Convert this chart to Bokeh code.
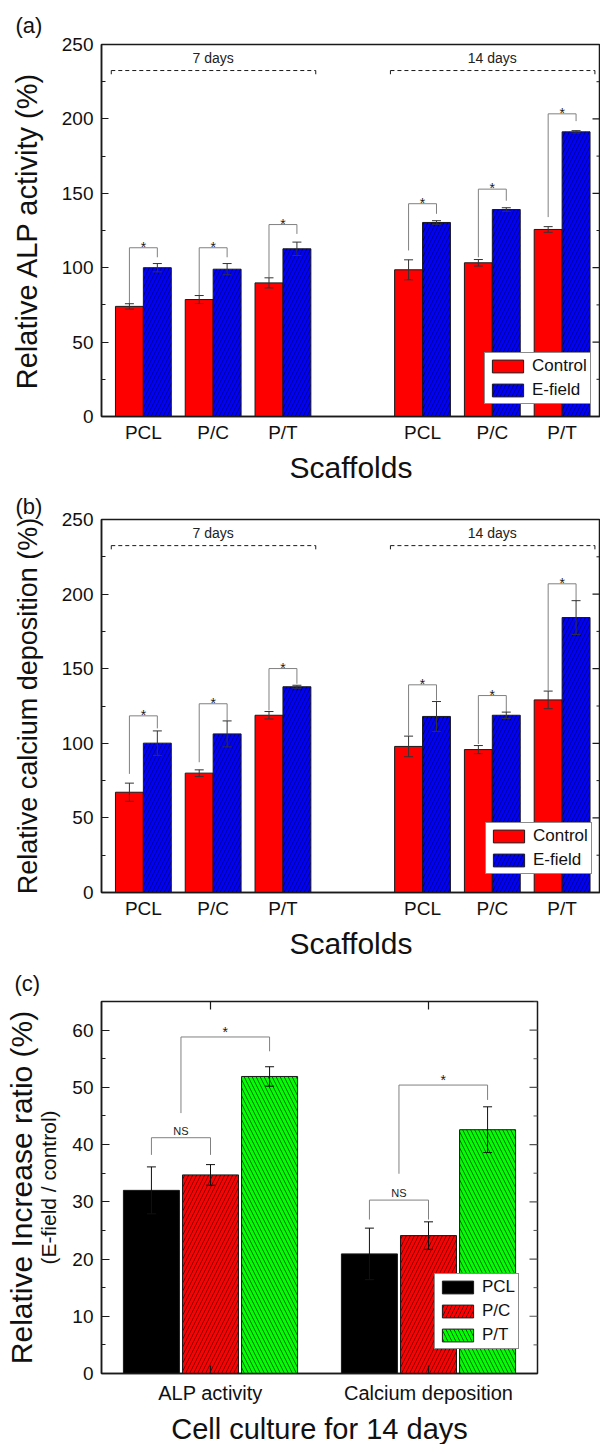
import math
from bokeh.plotting import figure
from bokeh.layouts import column
from bokeh.models import (ColumnDataSource, Whisker, TeeHead, Legend, LegendItem, LinearAxis,
                          FixedTicker, Range1d)
from bokeh.core.properties import value
from bokeh.embed import file_html
from bokeh.resources import INLINE

FONT = "Liberation Sans"
INK = "#1a1a1a"
BRACKET = "#808080"

# ---------------- data ----------------
scaffolds = ["PCL", "P/C", "P/T"]
periods = ["7 days", "14 days"]

# (a) relative ALP activity (%)  order: 7d PCL, P/C, P/T, 14d PCL, P/C, P/T
alp_control = [74.0, 78.6, 89.8, 98.6, 103.3, 125.7]
alp_control_err = [1.8, 2.7, 3.4, 6.7, 2.2, 1.9]
alp_efield = [100.0, 99.0, 112.7, 130.4, 139.1, 191.3]
alp_efield_err = [2.8, 3.8, 4.5, 1.2, 1.2, 0.8]
alp_sig_top = [113.4, 113.4, 129.0, 143.0, 152.8, 203.4]
alp_sig_left = [75.8, 81.3, 93.6, 111.6, 107.0, 134.0]
alp_sig_right = [107.0, 107.0, 122.7, 136.2, 145.0, 198.5]

# (b) relative calcium deposition (%)
ca_control = [67.2, 80.0, 118.8, 97.9, 95.8, 129.1]
ca_control_err = [6.1, 2.2, 2.5, 6.9, 2.7, 5.9]
ca_efield = [100.1, 106.3, 137.9, 118.0, 118.8, 184.3]
ca_efield_err = [8.2, 8.7, 1.0, 10.0, 2.1, 11.3]
ca_sig_top = [118.4, 126.5, 150.1, 139.2, 132.0, 206.9]
ca_sig_left = [79.5, 87.3, 122.0, 105.2, 99.5, 135.4]
ca_sig_right = [110.0, 115.3, 139.9, 128.7, 120.8, 195.2]

period_bracket_level = 232.5
period_label_level = 241.0

# (c) relative increase ratio (%), 14 days
ratio_tests = ["ALP activity", "Calcium deposition"]
ratio_pcl = [32.0, 20.9]
ratio_pcl_err = [4.1, 4.5]
ratio_pc = [34.7, 24.1]
ratio_pc_err = [1.8, 2.4]
ratio_pt = [51.9, 42.6]
ratio_pt_err = [1.7, 4.0]
ratio_ns_top = [41.2, 30.3]
ratio_ns_left = [38.2, 26.9]
ratio_ns_right = [38.2, 26.9]
ratio_star_top = [58.8, 50.4]
ratio_star_left = [45.5, 34.9]
ratio_star_right = [56.3, 47.8]


def style_axis(ax, label_size="19px"):
    ax.axis_line_color = INK
    ax.axis_line_width = 1.5
    ax.major_tick_line_color = INK
    ax.minor_tick_line_color = INK
    ax.major_tick_line_width = 1.2
    ax.minor_tick_line_width = 1.0
    ax.major_tick_out = 0
    ax.minor_tick_out = 0
    ax.major_tick_in = 7
    ax.minor_tick_in = 4
    ax.major_label_text_font = FONT
    ax.major_label_text_font_size = label_size
    ax.major_label_text_color = "#111111"
    ax.axis_label_text_font = FONT
    ax.axis_label_text_font_size = "30px"
    ax.axis_label_text_font_style = "normal"
    ax.axis_label_text_color = "#111111"


def panel_title(p, text, offset, standoff):
    p.title.text = text
    p.title.text_font = FONT
    p.title.text_font_size = "22px"
    p.title.text_font_style = "normal"
    p.title.text_color = "#111111"
    p.title.align = "left"
    p.title.offset = offset
    p.title.standoff = standoff


def mirror_ticks(p, x_edge, ticks, minor, color=INK):
    # inward tick marks on the right frame edge (half of each dash is clipped by the frame)
    p.scatter(x=[x_edge] * len(ticks), y=ticks, marker="dash", size=16,
              line_color=color, line_width=1.2)
    p.scatter(x=[x_edge] * len(minor), y=minor, marker="dash", size=8,
              line_color=color, line_width=1.0)


def whiskers(p, src, base, up, lo, color="#333333"):
    w = Whisker(base=base, upper=up, lower=lo, source=src, level="annotation",
                line_color=color, line_width=1,
                upper_head=TeeHead(size=9, line_color=color, line_width=1),
                lower_head=TeeHead(size=9, line_color=color, line_width=1))
    p.add_layout(w)


def style_legend(lg):
    lg.border_line_color = INK
    lg.border_line_width = 1
    lg.background_fill_color = "white"
    lg.background_fill_alpha = 1
    lg.label_text_font = FONT
    lg.label_text_font_size = "17px"
    lg.label_text_color = "#111111"
    lg.glyph_width = 39
    lg.glyph_height = 16
    lg.label_height = 18
    lg.label_standoff = 5
    lg.padding = 3
    lg.spacing = 4
    lg.margin = 0


def bar_panel(letter, letter_standoff, ylabel, ylabel_size, control, control_err, efield,
              efield_err, sig_top, sig_left, sig_right, top_border, frame_h, legend_loc):
    slots = [1 + i + 4 * k for k in range(len(periods)) for i in range(len(scaffolds))]
    names = [s for _ in periods for s in scaffolds]
    x_lo, x_hi, y_hi = 0.4, 7.55, 250
    fw, left = 499, 100
    p = figure(frame_width=fw, frame_height=frame_h, x_range=Range1d(x_lo, x_hi),
               y_range=Range1d(0, y_hi), output_backend="svg", toolbar_location=None,
               min_border_left=left, min_border_right=1, min_border_top=top_border,
               min_border_bottom=70, background_fill_color="white", border_fill_color="white")
    p.grid.visible = False
    p.outline_line_color = INK
    p.outline_line_width = 1.5
    panel_title(p, letter, -86, letter_standoff)

    src = ColumnDataSource(dict(
        xc=[s - 0.2 for s in slots], xe=[s + 0.2 for s in slots],
        control=control, efield=efield,
        c_up=[v + e for v, e in zip(control, control_err)],
        c_lo=[v - e for v, e in zip(control, control_err)],
        e_up=[v + e for v, e in zip(efield, efield_err)],
        e_lo=[v - e for v, e in zip(efield, efield_err)]))
    rc = p.vbar(x="xc", top="control", width=0.4, source=src, fill_color="#ff0000",
                line_color=INK, line_width=1)
    re = p.vbar(x="xe", top="efield", width=0.4, source=src, fill_color="#0000ff",
                line_color=INK, line_width=1, hatch_pattern="/", hatch_color="#00002a",
                hatch_scale=8, hatch_weight=0.7)
    whiskers(p, src, "xc", "c_up", "c_lo")
    whiskers(p, src, "xe", "e_up", "e_lo")

    # significance brackets
    xs = [[s - 0.2, s - 0.2, s + 0.2, s + 0.2] for s in slots]
    ys = [[l, t, t, r] for l, t, r in zip(sig_left, sig_top, sig_right)]
    p.multi_line(xs, ys, line_color=BRACKET, line_width=1)
    p.text(x=slots, y=sig_top, text=["*"] * len(slots), text_font=value(FONT),
           text_font_size="14px", text_align="center", text_baseline="alphabetic",
           y_offset=-1, text_color=INK)

    # period brackets
    for k, name in enumerate(periods):
        grp = slots[k * 3:(k + 1) * 3]
        x0, x1 = grp[0] - 0.46, grp[-1] + 0.47
        p.segment(x0=[x0], y0=[period_bracket_level], x1=[x1], y1=[period_bracket_level],
                  line_dash="4 3", line_color=INK, line_width=1)
        p.segment(x0=[x0, x1], y0=[period_bracket_level] * 2, x1=[x0, x1],
                  y1=[period_bracket_level - 2.5] * 2, line_color=INK, line_width=1)
        p.text(x=[sum(grp) / len(grp)], y=[period_label_level], text=[name],
               text_font=value(FONT), text_font_size="14px", text_align="center",
               text_baseline="middle", text_color="#222222")

    # axes
    yticks = list(range(0, 251, 50))
    yminor = list(range(25, 250, 50))
    p.yaxis.ticker = FixedTicker(ticks=yticks, minor_ticks=yminor)
    p.xaxis.ticker = FixedTicker(ticks=slots)
    p.xaxis.major_label_overrides = {s: n for s, n in zip(slots, names)}
    style_axis(p.yaxis[0])
    style_axis(p.xaxis[0])
    p.xaxis.major_tick_in = 0
    p.yaxis.major_label_standoff = 8
    p.xaxis.major_label_standoff = 5
    p.yaxis.axis_label = ylabel
    p.yaxis.axis_label_text_font_size = ylabel_size
    p.yaxis.axis_label_standoff = 16
    p.xaxis.axis_label = "Scaffolds"
    p.xaxis.axis_label_standoff = 5
    mirror_ticks(p, x_hi, yticks, yminor)

    lg = Legend(items=[LegendItem(label="Control", renderers=[rc]),
                       LegendItem(label="E-field", renderers=[re])],
                location=legend_loc)
    style_legend(lg)
    p.add_layout(lg)
    return p


def ratio_panel():
    groups = [1 + g for g in range(len(ratio_tests))]
    x_lo, x_hi, y_hi = 0.5, 2.5, 65
    fw, fh, left = 436, 372, 101
    p = figure(frame_width=fw, frame_height=fh, x_range=Range1d(x_lo, x_hi),
               y_range=Range1d(0, y_hi), output_backend="svg", toolbar_location=None,
               min_border_left=left, min_border_right=63, min_border_top=38,
               min_border_bottom=72, background_fill_color="white", border_fill_color="white")
    p.grid.visible = False
    p.outline_line_color = INK
    p.outline_line_width = 1.5
    panel_title(p, "(c)", -87, 12)

    step, bw = 0.271, 0.257
    series = [(scaffolds[0], ratio_pcl, ratio_pcl_err, "#000000", None, None),
              (scaffolds[1], ratio_pc, ratio_pc_err, "#ff0000", "/", "#2a0000"),
              (scaffolds[2], ratio_pt, ratio_pt_err, "#00ff00", "\\", "#002a00")]
    items = []
    for j, (name, vals, errs, col, hatch, hcol) in enumerate(series):
        off = (j - 1) * step
        src = ColumnDataSource(dict(x=[g + off for g in groups], top=vals,
                                    up=[v + e for v, e in zip(vals, errs)],
                                    lo=[v - e for v, e in zip(vals, errs)]))
        kw = dict(hatch_pattern=hatch, hatch_color=hcol, hatch_scale=8, hatch_weight=0.7) if hatch else {}
        r = p.vbar(x="x", top="top", width=bw, source=src, fill_color=col,
                   line_color=INK, line_width=1, **kw)
        whiskers(p, src, "x", "up", "lo", color="#111111")
        items.append(LegendItem(label=name, renderers=[r]))

    # NS brackets (PCL vs P/C)
    xs = [[g - step, g - step, g, g] for g in groups]
    ys = [[l, t, t, r] for l, t, r in zip(ratio_ns_left, ratio_ns_top, ratio_ns_right)]
    p.multi_line(xs, ys, line_color=BRACKET, line_width=1)
    p.text(x=[g - step / 2 for g in groups], y=ratio_ns_top, text=["NS"] * len(groups),
           text_font=value(FONT), text_font_size="11px", text_align="center",
           text_baseline="alphabetic", y_offset=-7, text_color=INK)
    # star brackets (PCL,P/C vs P/T)
    xs = [[g - step / 2, g - step / 2, g + step, g + step] for g in groups]
    ys = [[l, t, t, r] for l, t, r in zip(ratio_star_left, ratio_star_top, ratio_star_right)]
    p.multi_line(xs, ys, line_color=BRACKET, line_width=1)
    p.text(x=[g + step / 4 for g in groups], y=ratio_star_top, text=["*"] * len(groups),
           text_font=value(FONT), text_font_size="14px", text_align="center",
           text_baseline="alphabetic", y_offset=-5, text_color=INK)

    yticks = list(range(0, 61, 10))
    yminor = list(range(5, 66, 10))
    p.yaxis.ticker = FixedTicker(ticks=yticks, minor_ticks=yminor)
    p.xaxis.ticker = FixedTicker(ticks=groups)
    p.xaxis.major_label_overrides = {g: n for g, n in zip(groups, ratio_tests)}
    style_axis(p.yaxis[0])
    style_axis(p.xaxis[0], label_size="20px")
    p.xaxis.major_tick_in = 8
    p.yaxis.major_tick_in = 8
    p.yaxis.major_label_standoff = 8
    p.xaxis.major_label_standoff = 8
    p.xaxis.axis_label = "Cell culture for 14 days"
    p.xaxis.axis_label_text_font_size = "29px"
    p.xaxis.axis_label_standoff = 6
    # inner y title (sub-label) on the default axis
    p.yaxis.axis_label = "(E-field / control)"
    p.yaxis.axis_label_text_font_size = "21px"
    p.yaxis.axis_label_standoff = 9
    # outer y title on an extra, tick-less axis
    outer = LinearAxis(ticker=FixedTicker(ticks=[]), axis_label="Relative Increase ratio (%)")
    style_axis(outer)
    outer.axis_line_color = None
    outer.major_label_standoff = 0
    outer.axis_label_standoff = -3
    p.add_layout(outer, "left")

    # mirror ticks on the right edge and on the top edge
    mirror_ticks(p, x_hi, yticks, yminor, color="#555555")
    p.scatter(x=groups, y=[y_hi] * len(groups), marker="dash", angle=math.pi / 2, size=16,
              line_color=INK, line_width=1.2)

    lg = Legend(items=items, location=(333, 24))
    style_legend(lg)
    p.add_layout(lg)
    return p


pa = bar_panel("(a)", 14, "Relative ALP activity (%)", "29px", alp_control, alp_control_err,
               alp_efield, alp_efield_err, alp_sig_top, alp_sig_left, alp_sig_right,
               top_border=44, frame_h=372, legend_loc=(383, 12))
pb = bar_panel("(b)", 2, "Relative calcium deposition (%)", "27px", ca_control, ca_control_err,
               ca_efield, ca_efield_err, ca_sig_top, ca_sig_left, ca_sig_right,
               top_border=33, frame_h=373, legend_loc=(384, 18))
pc = ratio_panel()

layout = column(pa, pb, pc, spacing=0)
open("out.html", "w").write(file_html(layout, INLINE, title="plot"))
